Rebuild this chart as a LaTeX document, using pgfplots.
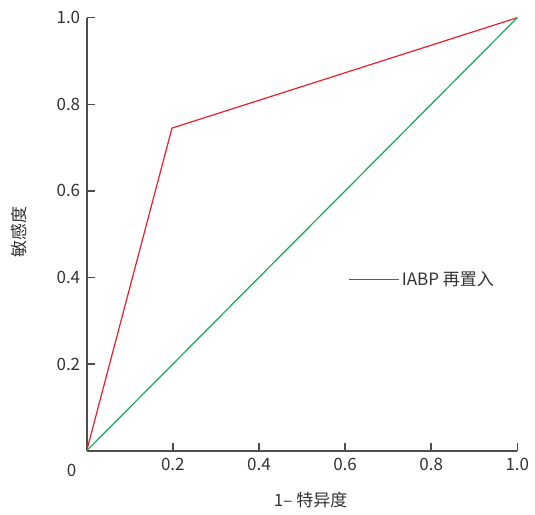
\documentclass[border=0pt]{standalone}
\usepackage{pgfplots}
\pgfplotsset{compat=1.18}
\usepackage{fontspec}
\setmainfont{Noto Sans CJK SC}
\definecolor{axgray}{HTML}{4D4D4D}
\definecolor{txtgray}{HTML}{333333}
\definecolor{rocred}{HTML}{E8202A}
\definecolor{rocgreen}{HTML}{1AA653}
\begin{document}
\begin{tikzpicture}
\begin{axis}[
  scale only axis,
  width=430.6pt, height=433pt,
  xmin=0, xmax=1, ymin=0, ymax=1,
  axis x line=bottom, axis y line=left,
  axis line style={draw=axgray, line width=1.8pt, -},
  xtick style={draw=axgray, line width=1.5pt},
  ytick style={draw=axgray, line width=1.5pt},
  xtick align=inside, ytick align=inside,
  major tick length=8pt,
  xtick={0.2,0.4,0.6,0.8,1.0},
  ytick={0.2,0.4,0.6,0.8,1.0},
  xticklabels={0.2,0.4,0.6,0.8,1.0},
  yticklabels={0.2,0.4,0.6,0.8,1.0},
  /pgf/number format/assume math mode=true,
  tick label style={font=\fontsize{17}{20}\selectfont, text=txtgray},
  xticklabel style={yshift=-4pt},
  yticklabel style={xshift=-3pt},
  xlabel={1– 特异度},
  ylabel={敏感度},
  label style={font=\fontsize{17}{20}\selectfont, text=txtgray},
  xlabel style={at={(axis description cs:0.52,0)}, anchor=center, yshift=-49pt},
  ylabel style={at={(axis description cs:0,0.505)}, anchor=center, rotate=0, yshift=68pt},
  legend style={draw=none, fill=none, at={(rel axis cs:0.608,0.395)}, anchor=west,
    font=\fontsize{17}{20}\selectfont, text=txtgray, inner sep=0pt},
  legend image code/.code={\draw[#1, line width=1.2pt] (0pt,0pt) -- (50pt,0pt);},
  clip=false,
]
\addplot[draw=rocred, line width=1.2pt] coordinates {(0,0) (0.198,0.745) (1,1)};
\addlegendentry{IABP 再置入}
\addplot[draw=rocgreen, line width=1.2pt, forget plot] coordinates {(0,0) (1,1)};
\node[font=\fontsize{17}{20}\selectfont, text=txtgray] at (axis cs:0,0) [xshift=-15pt, yshift=-19.5pt] {0};
\end{axis}
\path (-86.7pt,-63.3pt) rectangle (448.3pt,450.7pt);
\end{tikzpicture}
\end{document}
